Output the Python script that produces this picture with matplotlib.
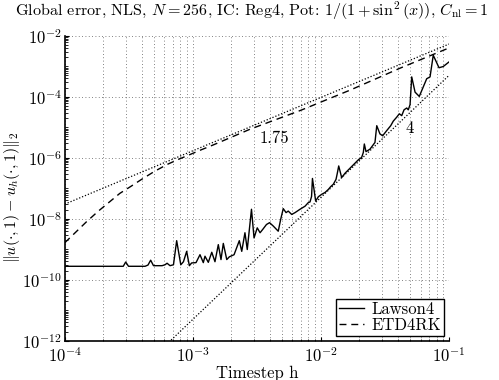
import matplotlib
matplotlib.use('Agg')
import matplotlib.pyplot as plt
import numpy as np
from matplotlib.ticker import LogLocator, NullFormatter

plt.rcParams['font.family'] = ['cmr10', 'DejaVu Serif']
plt.rcParams['mathtext.fontset'] = 'cm'
plt.rcParams['axes.formatter.use_mathtext'] = True

# Lawson4: log10(h), log10(error)
lawson_logh = [-4.000, -3.543, -3.524, -3.502, -3.373, -3.350, -3.329, -3.307, -3.240, -3.217,
               -3.201, -3.178, -3.151, -3.126, -3.094, -3.073, -3.048, -3.027, -3.009, -2.975,
               -2.944, -2.918, -2.905, -2.879, -2.852, -2.827, -2.801, -2.780, -2.762, -2.735,
               -2.715, -2.678, -2.637, -2.618, -2.593, -2.575, -2.542, -2.522, -2.497, -2.475,
               -2.454, -2.425, -2.401, -2.372, -2.333, -2.314, -2.294, -2.272, -2.255, -2.228,
               -2.202, -2.163, -2.124, -2.098, -2.085, -2.073, -2.066, -2.041, -2.020, -1.994,
               -1.968, -1.942, -1.924, -1.903, -1.882, -1.872, -1.861, -1.838, -1.812, -1.786,
               -1.760, -1.734, -1.708, -1.682, -1.669, -1.661, -1.648, -1.617, -1.578, -1.564,
               -1.539, -1.518, -1.486, -1.455, -1.435, -1.408, -1.388, -1.369, -1.351, -1.330,
               -1.318, -1.304, -1.291, -1.265, -1.232, -1.201, -1.174, -1.148, -1.123, -1.078,
               -1.045, -1.000]
lawson_logerr = [-9.56, -9.56, -9.42, -9.56, -9.56, -9.52, -9.36, -9.54, -9.54, -9.51,
                 -9.46, -9.54, -9.51, -8.72, -9.51, -9.41, -9.07, -9.54, -9.45, -9.44,
                 -9.18, -9.44, -9.23, -9.43, -9.10, -9.41, -8.85, -9.34, -8.81, -9.34,
                 -9.25, -9.18, -8.72, -9.07, -8.46, -9.01, -7.69, -8.63, -8.30, -8.46,
                 -8.35, -8.19, -8.13, -8.24, -8.41, -8.02, -7.67, -7.80, -7.75, -7.86,
                 -7.80, -7.69, -7.59, -7.47, -7.45, -7.27, -6.68, -7.42, -7.28, -7.20,
                 -7.14, -7.04, -6.95, -6.87, -6.71, -6.51, -6.27, -6.65, -6.51, -6.40,
                 -6.29, -6.18, -6.07, -5.99, -5.83, -5.55, -5.80, -5.72, -5.50, -4.95,
                 -5.22, -5.28, -5.11, -4.95, -4.80, -4.67, -4.56, -4.62, -4.43, -4.37,
                 -4.43, -4.26, -3.35, -3.85, -3.99, -3.68, -3.41, -3.35, -2.64, -3.05,
                 -3.01, -2.86]

# ETD4RK
etd_logh = [-4.00, -3.83, -3.74, -3.57, -3.48, -3.40, -3.30, -3.20, -3.11, -3.03,
            -2.94, -2.84, -2.55, -2.16, -1.77, -1.38, -1.00]
etd_logerr = [-8.79, -8.10, -7.76, -7.17, -6.93, -6.71, -6.45, -6.22, -6.05, -5.91,
              -5.75, -5.58, -5.06, -4.45, -3.78, -3.06, -2.40]

# reference slopes  C * h^p
ref_p = [1.75, 4]
ref_c = [0.3, 5.0]

h_ref = np.logspace(-4, -1, 200)

fig = plt.figure(figsize=(4.99, 3.80), dpi=100)
ax = fig.add_axes([0.1297, 0.1034, 0.7701, 0.8026])

ax.loglog(h_ref, ref_c[0] * h_ref**ref_p[0], color='k', linestyle=(0, (1, 1.5)), linewidth=0.9)
ax.loglog(h_ref, ref_c[1] * h_ref**ref_p[1], color='k', linestyle=(0, (1, 1.5)), linewidth=0.9)
ax.loglog(10**np.array(lawson_logh), 10**np.array(lawson_logerr), color='k', linewidth=1.0,
          label='Lawson4')
ax.loglog(10**np.array(etd_logh), 10**np.array(etd_logerr), color='k', linewidth=1.0,
          linestyle=(0, (5, 3.5)), label='ETD4RK')

ax.text(0.0043, 4.4e-6, '1.75', fontsize=12, ha='center', va='center')
ax.text(0.0497, 9.2e-6, '4', fontsize=12, ha='center', va='center')

ax.set_xlim(1e-4, 1e-1)
ax.set_ylim(1e-12, 1e-2)
ax.xaxis.set_major_locator(LogLocator(base=10, numticks=10))
ax.xaxis.set_minor_locator(LogLocator(base=10, subs=np.arange(2, 10), numticks=20))
ax.xaxis.set_minor_formatter(NullFormatter())
ax.yaxis.set_major_locator(LogLocator(base=100, numticks=10))
ax.yaxis.set_minor_locator(LogLocator(base=10, subs=np.arange(1, 10), numticks=20))
ax.yaxis.set_minor_formatter(NullFormatter())

ax.grid(True, which='major', axis='both', color='0.35', linestyle=(0, (1, 3)), linewidth=0.6)
ax.grid(True, which='minor', axis='x', color='0.35', linestyle=(0, (1, 3)), linewidth=0.6)
ax.spines['top'].set_visible(False)
ax.spines['right'].set_visible(False)
ax.spines['left'].set_linewidth(1.2)
ax.spines['bottom'].set_linewidth(1.2)
ax.tick_params(which='both', direction='in', labelsize=12)
ax.tick_params(which='major', length=3, pad=2)
ax.tick_params(axis='x', which='major', pad=4)
ax.tick_params(which='minor', length=1.8)

ax.set_xlabel('Timestep h', fontsize=12, labelpad=0)
ax.set_ylabel(r'$\|u(\cdot,1) - u_h(\cdot,1)\|_2$', fontsize=11.5)
ax.yaxis.set_label_coords(-0.11, 0.47)
fig.text(252 / 499, 1 - 11 / 380,
         r'Global error, NLS, $N = 256$, IC: Reg4, Pot: $1/(1+\sin^2(x))$, $C_{\rm nl} = 1$',
         fontsize=11.6, ha='center', va='center')

leg = ax.legend(loc='lower right', fontsize=12, fancybox=False, framealpha=1,
                edgecolor='k', borderpad=0.15, labelspacing=0.05, handlelength=1.5,
                handletextpad=0.5, borderaxespad=0.3)
leg.get_frame().set_linewidth(1.0)

plt.savefig('out.png', dpi=100)
